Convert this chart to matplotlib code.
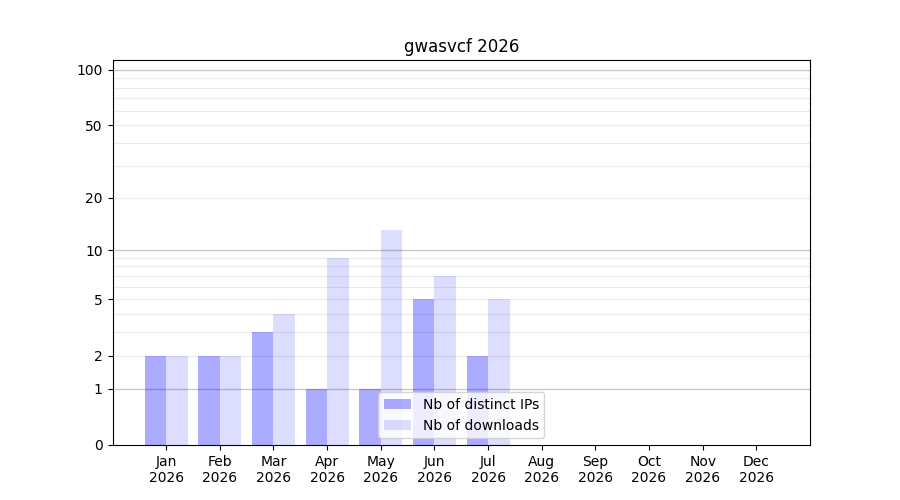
import numpy as np
import matplotlib
matplotlib.use('Agg')
import matplotlib.pyplot as plt

# data
months = ['Jan', 'Feb', 'Mar', 'Apr', 'May', 'Jun',
          'Jul', 'Aug', 'Sep', 'Oct', 'Nov', 'Dec']
year = '2026'
distinct_ips = [2, 2, 3, 1, 1, 5, 2, 0, 0, 0, 0, 0]
downloads = [2, 2, 4, 9, 13, 7, 5, 0, 0, 0, 0, 0]
yticks = [0, 1, 2, 5, 10, 20, 50, 100]
major_grid = [1, 10, 100]
minor_grid = [2, 3, 4, 5, 6, 7, 8, 9, 20, 30, 40, 50, 60, 70, 80, 90]


def fwd(y):
    return np.log10(1 + np.clip(y, 0, None))


def inv(y):
    return 10 ** y - 1


fig, ax = plt.subplots(figsize=(9, 5), dpi=100)
x = np.arange(len(months))
w = 0.4

ax.set_yscale('function', functions=(fwd, inv))

for v in minor_grid:
    ax.axhline(v, color='#ebebeb', lw=0.8, zorder=0)
for v in major_grid:
    ax.axhline(v, color='#c8c8c8', lw=1.0, zorder=0)

ax.bar(x - w / 2, distinct_ips, w, color='blue', alpha=0.33,
       label='Nb of distinct IPs', zorder=2)
ax.bar(x + w / 2, downloads, w, color='blue', alpha=0.133,
       label='Nb of downloads', zorder=2)

ax.set_xlim(-1, 12)
ax.set_ylim(0, 113)
ax.set_yticks(yticks)
ax.set_yticklabels([str(t) for t in yticks])
ax.yaxis.set_minor_locator(matplotlib.ticker.NullLocator())
ax.set_xticks(x)
ax.set_xticklabels([m + '\n' + year for m in months])
ax.set_title('gwasvcf ' + year)
ax.legend(loc='lower center')

fig.savefig('out.png')
